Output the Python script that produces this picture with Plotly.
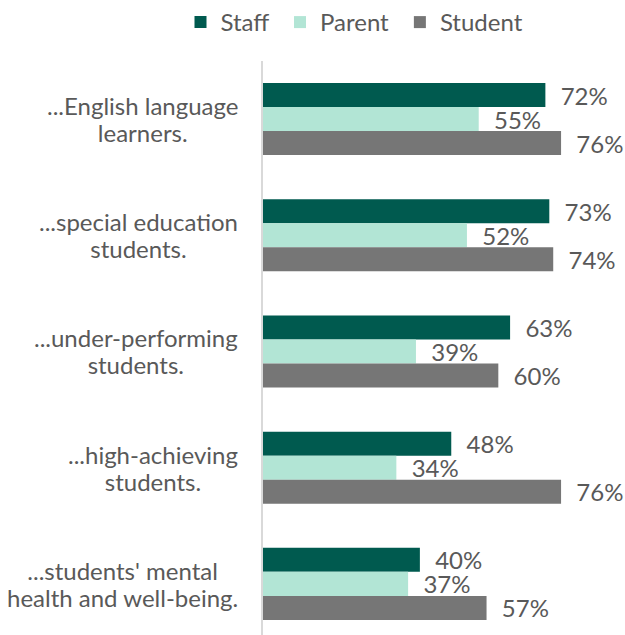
import plotly.graph_objects as go

categories = ["...English language<br>learners.",
              "...special education<br>students.",
              "...under-performing<br>students.",
              "...high-achieving<br>students.",
              "...students' mental<br>health and well-being."]
cat_ids = ["c1", "c2", "c3", "c4", "c5"]
staff = [72, 73, 63, 48, 40]
parent = [55, 52, 39, 34, 37]
student = [76, 74, 60, 76, 57]

series = [("Staff", staff, "#005a4f"),
          ("Parent", parent, "#b2e5d5"),
          ("Student", student, "#767676")]

FONT = "Lato, 'Open Sans', sans-serif"
GRAY = "#595959"
NB = "\u00a0"

W, H = 625, 635
L, T = 263, 61
PW = W - L

fig = go.Figure()
for name, vals, col in series:
    fig.add_trace(go.Bar(
        y=cat_ids, x=vals, name=name + NB, orientation="h",
        marker=dict(color=col, line=dict(width=0)),
        text=[f"{NB*2}{v}%" for v in vals], textposition="outside",
        textfont=dict(family=FONT, size=24, color=GRAY),
        cliponaxis=False, constraintext="none",
    ))

for cid, lab in zip(cat_ids, categories):
    lines = lab.split("<br>")
    txt = "<br>".join(f"<span style='font-size:24px'>{s}</span>" for s in lines)
    fig.add_annotation(x=-23 / PW, xref="paper", xanchor="right",
                       y=cid, yref="y", text=txt, align="center",
                       showarrow=False,
                       font=dict(family=FONT, size=21, color=GRAY))

fig.update_layout(
    width=W, height=H,
    margin=dict(l=L, r=0, t=T, b=0, autoexpand=False),
    paper_bgcolor="white", plot_bgcolor="white",
    barmode="group", bargap=0.38, bargroupgap=0,
    font=dict(family=FONT, color=GRAY),
    legend=dict(orientation="h", x=357 / W, xanchor="center",
                xref="container",
                y=1, yref="container", yanchor="top",
                font=dict(family=FONT, size=24, color=GRAY),
                itemwidth=30, traceorder="normal"),
    xaxis=dict(range=[0, 92.3], showgrid=False, zeroline=False,
               showticklabels=False, showline=False, ticks=""),
    yaxis=dict(range=[4.44, -0.5], showticklabels=False, showgrid=False,
               zeroline=False, showline=True, linecolor="#d9d9d9",
               linewidth=2, ticks=""),
)

fig.write_html(
    "out.html",
    config={"displayModeBar": False},
    post_script="document.body.style.margin='0';"
                "document.body.style.overflow='hidden';",
)
